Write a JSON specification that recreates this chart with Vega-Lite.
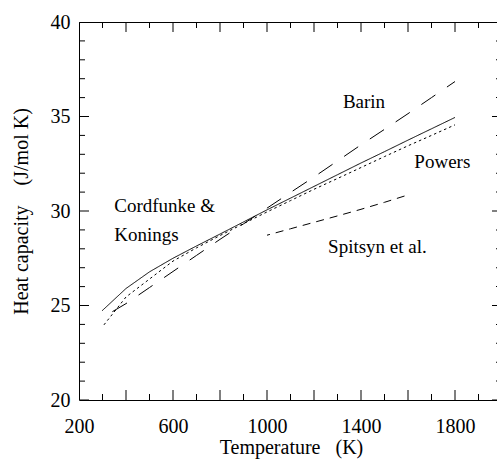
{
  "$schema": "https://vega.github.io/schema/vega-lite/v6.json",
  "width": 423,
  "height": 378,
  "autosize": {"type": "none"},
  "padding": {"left": 79, "top": 22, "right": -5, "bottom": 63},
  "background": "white",
  "config": {
    "view": {"stroke": "#000", "strokeWidth": 1},
    "axis": {
      "domain": false, "grid": false, "ticks": false,
      "labelColor": "#000", "titleColor": "#000",
      "labelFont": "Liberation Serif, Times New Roman, serif",
      "titleFont": "Liberation Serif, Times New Roman, serif",
      "labelFontSize": 20, "titleFontSize": 20, "titleFontWeight": "normal"
    }
  },
  "datasets": {
    "lines": [
      {"src": "CK", "T": 298.15, "C": 24.72}, {"src": "CK", "T": 400, "C": 25.9}, {"src": "CK", "T": 500, "C": 26.78},
      {"src": "CK", "T": 600, "C": 27.5}, {"src": "CK", "T": 700, "C": 28.15}, {"src": "CK", "T": 800, "C": 28.78},
      {"src": "CK", "T": 900, "C": 29.42}, {"src": "CK", "T": 1000, "C": 30.06}, {"src": "CK", "T": 1100, "C": 30.68},
      {"src": "CK", "T": 1200, "C": 31.3}, {"src": "CK", "T": 1300, "C": 31.92}, {"src": "CK", "T": 1400, "C": 32.54},
      {"src": "CK", "T": 1500, "C": 33.14}, {"src": "CK", "T": 1600, "C": 33.75}, {"src": "CK", "T": 1700, "C": 34.35},
      {"src": "CK", "T": 1800, "C": 34.95},
      {"src": "Powers", "T": 298.15, "C": 23.85}, {"src": "Powers", "T": 400, "C": 25.45}, {"src": "Powers", "T": 500, "C": 26.4},
      {"src": "Powers", "T": 600, "C": 27.35}, {"src": "Powers", "T": 700, "C": 28.05}, {"src": "Powers", "T": 800, "C": 28.7},
      {"src": "Powers", "T": 900, "C": 29.33}, {"src": "Powers", "T": 1000, "C": 29.95}, {"src": "Powers", "T": 1100, "C": 30.55},
      {"src": "Powers", "T": 1200, "C": 31.15}, {"src": "Powers", "T": 1300, "C": 31.72}, {"src": "Powers", "T": 1400, "C": 32.3},
      {"src": "Powers", "T": 1500, "C": 32.88}, {"src": "Powers", "T": 1600, "C": 33.45}, {"src": "Powers", "T": 1700, "C": 34.0},
      {"src": "Powers", "T": 1800, "C": 34.56},
      {"src": "Barin", "T": 298.15, "C": 24.35}, {"src": "Barin", "T": 400, "C": 25.1}, {"src": "Barin", "T": 500, "C": 25.95},
      {"src": "Barin", "T": 600, "C": 26.8}, {"src": "Barin", "T": 700, "C": 27.65}, {"src": "Barin", "T": 800, "C": 28.5},
      {"src": "Barin", "T": 900, "C": 29.32}, {"src": "Barin", "T": 1000, "C": 30.15}, {"src": "Barin", "T": 1100, "C": 30.98},
      {"src": "Barin", "T": 1200, "C": 31.8}, {"src": "Barin", "T": 1300, "C": 32.65}, {"src": "Barin", "T": 1400, "C": 33.5},
      {"src": "Barin", "T": 1500, "C": 34.32}, {"src": "Barin", "T": 1600, "C": 35.15}, {"src": "Barin", "T": 1700, "C": 36.0},
      {"src": "Barin", "T": 1800, "C": 36.85},
      {"src": "Spitsyn", "T": 1000, "C": 28.72}, {"src": "Spitsyn", "T": 1100, "C": 29.06}, {"src": "Spitsyn", "T": 1200, "C": 29.4},
      {"src": "Spitsyn", "T": 1300, "C": 29.74}, {"src": "Spitsyn", "T": 1400, "C": 30.09}, {"src": "Spitsyn", "T": 1500, "C": 30.46},
      {"src": "Spitsyn", "T": 1600, "C": 30.85}
    ],
    "notes": [
      {"label": "Barin", "T": 1323, "C": 35.47},
      {"label": "Powers", "T": 1627, "C": 32.29},
      {"label": "Cordfunke &", "T": 350, "C": 29.94},
      {"label": "Konings", "T": 350, "C": 28.43},
      {"label": "Spitsyn et al.", "T": 1260, "C": 27.78}
    ],
    "xticks": [
      {"v": 200, "kind": "major"}, {"v": 300, "kind": "minor"}, {"v": 400, "kind": "major"}, {"v": 500, "kind": "minor"},
      {"v": 600, "kind": "major"}, {"v": 700, "kind": "minor"}, {"v": 800, "kind": "major"}, {"v": 900, "kind": "minor"},
      {"v": 1000, "kind": "major"}, {"v": 1100, "kind": "minor"}, {"v": 1200, "kind": "major"}, {"v": 1300, "kind": "minor"},
      {"v": 1400, "kind": "major"}, {"v": 1500, "kind": "minor"}, {"v": 1600, "kind": "major"}, {"v": 1700, "kind": "minor"},
      {"v": 1800, "kind": "major"}, {"v": 1900, "kind": "minor"}, {"v": 2000, "kind": "major"}
    ],
    "yticks": [
      {"v": 20, "kind": "major"}, {"v": 21, "kind": "minor"}, {"v": 22, "kind": "minor"}, {"v": 23, "kind": "minor"}, {"v": 24, "kind": "minor"},
      {"v": 25, "kind": "major"}, {"v": 26, "kind": "minor"}, {"v": 27, "kind": "minor"}, {"v": 28, "kind": "minor"}, {"v": 29, "kind": "minor"},
      {"v": 30, "kind": "major"}, {"v": 31, "kind": "minor"}, {"v": 32, "kind": "minor"}, {"v": 33, "kind": "minor"}, {"v": 34, "kind": "minor"},
      {"v": 35, "kind": "major"}, {"v": 36, "kind": "minor"}, {"v": 37, "kind": "minor"}, {"v": 38, "kind": "minor"}, {"v": 39, "kind": "minor"},
      {"v": 40, "kind": "major"}
    ]
  },
  "resolve": {"axis": {"x": "independent", "y": "independent"}},
  "layer": [
    {
      "data": {"name": "lines"},
      "mark": {"type": "line", "strokeWidth": 1, "color": "#000", "strokeDashOffset": 19},
      "encoding": {
        "x": {
          "field": "T", "type": "quantitative",
          "scale": {"domain": [200, 2000], "nice": false, "zero": false},
          "axis": {
            "orient": "bottom", "values": [200, 600, 1000, 1400, 1800],
            "labelPadding": 16, "labelFlush": false, "labelOverlap": false, "format": "d",
            "title": "Temperature\u00a0\u00a0\u00a0(K)", "titleBaseline": "alphabetic", "titleX": 212, "titleY": 53
          }
        },
        "y": {
          "field": "C", "type": "quantitative",
          "scale": {"domain": [20, 40], "nice": false, "zero": false},
          "axis": {
            "orient": "left", "values": [20, 25, 30, 35, 40],
            "labelPadding": 9, "labelFlush": false, "labelOverlap": false, "format": "d",
            "title": "Heat capacity\u00a0\u00a0\u00a0\u00a0(J/mol K)", "titleAngle": -90,
            "titleBaseline": "alphabetic", "titleX": -52, "titleY": 189
          }
        },
        "strokeDash": {
          "field": "src", "type": "nominal",
          "scale": {"domain": ["CK", "Powers", "Barin", "Spitsyn"], "range": [[1, 0], [2.5, 3], [17, 14], [8, 6]]},
          "legend": null
        }
      }
    },
    {
      "data": {"name": "notes"},
      "mark": {"type": "text", "align": "left", "baseline": "alphabetic", "fontSize": 19, "font": "Liberation Serif, Times New Roman, serif", "color": "#000"},
      "encoding": {
        "x": {"field": "T", "type": "quantitative", "axis": null},
        "y": {"field": "C", "type": "quantitative", "axis": null},
        "text": {"field": "label"}
      }
    },
    {
      "data": {"name": "xticks"},
      "mark": {"type": "tick", "orient": "vertical", "thickness": 1, "clip": true, "color": "#000", "opacity": 1},
      "encoding": {
        "x": {"field": "v", "type": "quantitative", "axis": null},
        "y": {"datum": 20, "type": "quantitative", "axis": null},
        "size": {"field": "kind", "type": "ordinal", "scale": {"domain": ["major", "minor"], "range": [20, 12]}, "legend": null}
      }
    },
    {
      "data": {"name": "xticks"},
      "mark": {"type": "tick", "orient": "vertical", "thickness": 1, "clip": true, "color": "#000", "opacity": 1},
      "encoding": {
        "x": {"field": "v", "type": "quantitative", "axis": null},
        "y": {"datum": 40, "type": "quantitative", "axis": null},
        "size": {"field": "kind", "type": "ordinal", "scale": {"domain": ["major", "minor"], "range": [20, 12]}, "legend": null}
      }
    },
    {
      "data": {"name": "yticks"},
      "mark": {"type": "tick", "orient": "horizontal", "thickness": 1, "clip": true, "color": "#000", "opacity": 1},
      "encoding": {
        "y": {"field": "v", "type": "quantitative", "axis": null},
        "x": {"datum": 200, "type": "quantitative", "axis": null},
        "size": {"field": "kind", "type": "ordinal", "scale": {"domain": ["major", "minor"], "range": [20, 12]}, "legend": null}
      }
    },
    {
      "data": {"name": "yticks"},
      "mark": {"type": "tick", "orient": "horizontal", "thickness": 1, "clip": true, "color": "#000", "opacity": 1},
      "encoding": {
        "y": {"field": "v", "type": "quantitative", "axis": null},
        "x": {"datum": 2000, "type": "quantitative", "axis": null},
        "size": {"field": "kind", "type": "ordinal", "scale": {"domain": ["major", "minor"], "range": [20, 12]}, "legend": null}
      }
    }
  ]
}
